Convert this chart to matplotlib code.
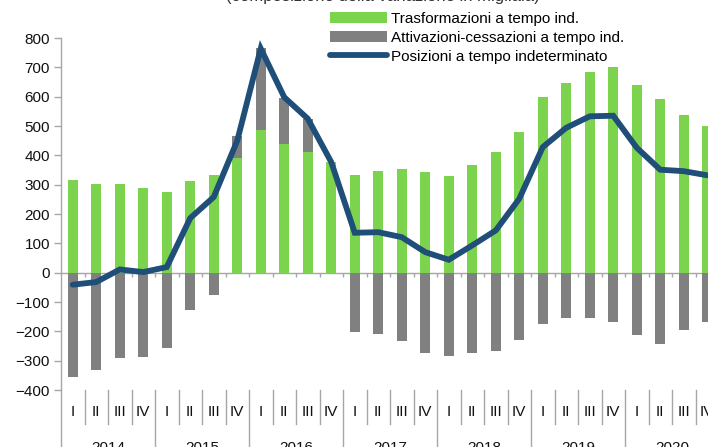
import matplotlib
matplotlib.use("Agg")
import matplotlib.pyplot as plt
import numpy as np

plt.rcParams['font.family'] = ['Liberation Sans', 'DejaVu Sans']

years = ["2014", "2015", "2016", "2017", "2018", "2019", "2020"]
quarters = ["I", "II", "III", "IV"]

trasformazioni = [315, 303, 301, 290, 274, 312, 333, 391,
                  488, 437, 413, 376, 334, 345, 352, 342,
                  328, 368, 410, 479, 598, 645, 685, 700,
                  640, 593, 537, 501]
attivazioni_cessazioni = [-357, -333, -291, -289, -257, -128, -75, 74,
                          277, 159, 112, 0, -202, -210, -234, -274,
                          -285, -275, -267, -230, -174, -155, -153, -167,
                          -214, -242, -194, -169]
posizioni = [-41, -32, 11, 2, 19, 186, 258, 450,
             764, 598, 525, 377, 136, 138, 121, 70,
             44, 93, 144, 252, 428, 494, 533, 535,
             426, 351, 346, 332]

GREEN = '#7CD44E'
GRAY = '#808080'
BLUE = '#1F4E79'
AXC = '#A6A6A6'

W, H = 708, 447
fig = plt.figure(figsize=(W / 100, H / 100), dpi=100)
left_px, top_px, bot_px = 61, 38, 390
slot = 23.5
n = len(trasformazioni)
ax = fig.add_axes([left_px / W, (H - bot_px) / H, n * slot / W, (bot_px - top_px) / H])

x = np.arange(n)
tr = np.array(trasformazioni)
ac = np.array(attivazioni_cessazioni)
bw = 0.44
b1 = ax.bar(x, tr, width=bw, color=GREEN, label='Trasformazioni a tempo ind.', zorder=2)
b2 = ax.bar(x, ac, width=bw, bottom=np.where(ac > 0, tr, 0), color=GRAY,
            label='Attivazioni-cessazioni a tempo ind.', zorder=2)
l1, = ax.plot(x, posizioni, color=BLUE, lw=4.2, solid_capstyle='round',
              solid_joinstyle='miter', label='Posizioni a tempo indeterminato', zorder=3)

ax.set_xlim(-0.5, n - 0.5)
ax.set_ylim(-400, 800)
ax.set_yticks(np.arange(-400, 801, 100))
ax.tick_params(axis='y', direction='out', length=5, width=1, color=AXC,
               labelsize=11, pad=3, labelcolor='#111111')
ax.set_xticks([])
for s in ['top', 'right', 'bottom']:
    ax.spines[s].set_visible(False)
ax.spines['left'].set_color(AXC)
ax.spines['left'].set_linewidth(1)

# zero line with small ticks
ax.axhline(0, color=AXC, lw=1, zorder=1)
bounds = np.arange(n) + 0.5
ax.vlines(bounds, -14, 0, color=AXC, lw=1, zorder=1)

# category axis below
trans = ax.get_xaxis_transform()
ax.plot([-0.5, -0.5], [0, -0.25], transform=trans, color=AXC, lw=1, clip_on=False)
for i in range(n):
    b = i + 0.5
    if (i + 1) % 4 == 0:
        ax.plot([b, b], [0, -0.25], transform=trans, color=AXC, lw=1, clip_on=False)
    else:
        ax.plot([b, b], [0, -0.097], transform=trans, color=AXC, lw=1, clip_on=False)
    ax.text(i, -0.063, quarters[i % 4], transform=trans, ha='center', va='center',
            fontsize=11, color='#111111', clip_on=False)
for k, yr in enumerate(years):
    ax.text(4 * k + 1.5, -0.165, yr, transform=trans, ha='center', va='center',
            fontsize=11, color='#111111', clip_on=False)

fig.text(383 / W, 1 - 0.5 / H, '(composizione della variazione in migliaia)',
         ha='center', va='baseline', fontsize=12, color='#333333')

leg = fig.legend([b1, b2, l1],
                 ['Trasformazioni a tempo ind.', 'Attivazioni-cessazioni a tempo ind.',
                  'Posizioni a tempo indeterminato'],
                 loc='upper left', bbox_to_anchor=(330 / W, 1 - 12 / H),
                 frameon=False, fontsize=11, handlelength=3.7, handletextpad=0.3,
                 labelspacing=0.32, borderpad=0, borderaxespad=0)

fig.savefig('out.png', dpi=100)
